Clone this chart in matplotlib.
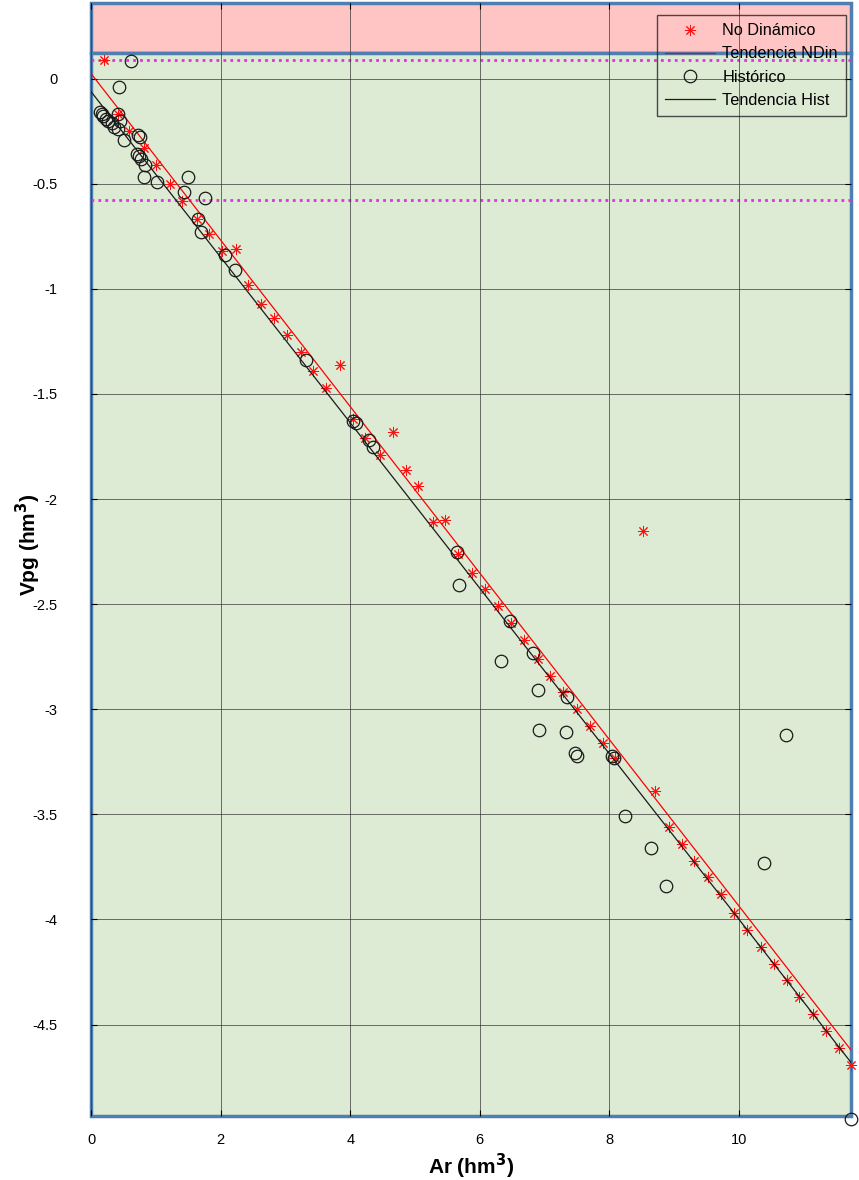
import numpy as np
import matplotlib.pyplot as plt
from matplotlib.patches import Rectangle

plt.rcParams['font.family'] = ['Liberation Sans', 'DejaVu Sans']
plt.rcParams['axes.unicode_minus'] = False

# No Dinámico series
nd_x = [0.20, 0.42, 0.59, 0.82, 1.00, 1.22, 1.40, 1.64, 1.82, 2.02, 2.24, 2.42,
        2.62, 2.82, 3.02, 3.24, 3.43, 3.63, 3.84, 4.04, 4.23, 4.46, 4.66, 4.86,
        5.05, 5.28, 5.46, 5.66, 5.88, 6.08, 6.28, 6.48, 6.68, 6.90, 7.08, 7.28,
        7.50, 7.70, 7.90, 8.09, 8.52, 8.70, 8.92, 9.12, 9.31, 9.52, 9.72, 9.92,
        10.12, 10.34, 10.54, 10.74, 10.93, 11.14, 11.34, 11.54, 11.73]
nd_y = [0.09, -0.17, -0.25, -0.33, -0.41, -0.50, -0.58, -0.67, -0.74, -0.82, -0.81, -0.98,
        -1.07, -1.14, -1.22, -1.30, -1.39, -1.47, -1.36, -1.62, -1.71, -1.79, -1.68, -1.86,
        -1.94, -2.11, -2.10, -2.26, -2.35, -2.43, -2.51, -2.59, -2.67, -2.76, -2.84, -2.92,
        -3.00, -3.08, -3.16, -3.23, -2.15, -3.39, -3.56, -3.64, -3.72, -3.80, -3.88, -3.97,
        -4.05, -4.13, -4.21, -4.29, -4.37, -4.45, -4.53, -4.61, -4.69]

# Historico series
hist_x = [0.62, 0.43, 0.14, 0.17, 0.19, 0.23, 0.26, 0.32, 0.36, 0.42, 0.45, 0.42,
          0.51, 0.72, 0.75, 0.71, 0.74, 0.77, 0.83, 0.82, 1.02, 1.50, 1.43, 1.76,
          1.65, 1.70, 2.07, 2.22, 3.32, 4.04, 4.09, 4.29, 4.35, 5.65, 5.68, 6.47,
          6.82, 6.33, 7.35, 6.90, 6.91, 7.33, 7.47, 7.50, 8.04, 8.07, 8.24, 8.64,
          8.87, 10.39, 10.73, 11.73]
hist_y = [0.086, -0.04, -0.16, -0.17, -0.18, -0.19, -0.20, -0.21, -0.23, -0.24, -0.20, -0.17,
          -0.29, -0.27, -0.28, -0.36, -0.37, -0.38, -0.41, -0.47, -0.49, -0.47, -0.54, -0.57,
          -0.67, -0.73, -0.84, -0.91, -1.34, -1.63, -1.64, -1.72, -1.75, -2.25, -2.41, -2.58,
          -2.73, -2.77, -2.94, -2.91, -3.10, -3.11, -3.21, -3.22, -3.22, -3.23, -3.51, -3.66,
          -3.84, -3.73, -3.12, -4.95]

# trend lines (slope, intercept)
nd_trend = (-0.396, 0.024)
hist_trend = (-0.3937, -0.062)

# reference band limits
band_top = 0.124
lim_hi = 0.09
lim_lo = -0.575

x_ticks = [0, 2, 4, 6, 8, 10]
y_ticks = [0, -0.5, -1, -1.5, -2, -2.5, -3, -3.5, -4, -4.5]

x_min, x_max = 0, 11.73
y_min, y_max = -4.935, 0.36

fig = plt.figure(figsize=(8.59, 11.8), dpi=100)
ax = fig.add_axes([0.106, 0.0542, 0.8847, 0.9433])

# background bands
blue = '#4F7FB0'
ax.add_patch(Rectangle((x_min, band_top), x_max - x_min, y_max - band_top,
                       facecolor='#FFC4C4', edgecolor=blue, lw=2.5, zorder=0, clip_on=False))
ax.add_patch(Rectangle((x_min, y_min), x_max - x_min, band_top - y_min,
                       facecolor='#DDEAD4', edgecolor=blue, lw=2.5, zorder=0, clip_on=False))

ax.grid(True, color='#333333', lw=0.7, alpha=0.7)
ax.set_axisbelow(False)

for yv in (lim_hi, lim_lo, y_min - 0.008):
    ax.plot([x_min, x_max], [yv, yv], color='#DD33DD', lw=2, ls=(0, (1, 1.5)), zorder=1)

xx = np.array([x_min, x_max])

ax.plot(nd_x, nd_y, ls='none', marker=(8, 2, 0), ms=8, mew=0.7, color='#FF1010',
        label='No Dinámico', zorder=3, clip_on=False)
ax.plot(xx, np.polyval(nd_trend, xx), color='red', lw=0.9, label='Tendencia NDin', zorder=3)
ax.plot(hist_x, hist_y, ls='none', marker='o', ms=9, mfc='none', mec='#1a1a1a', mew=0.9,
        label='Histórico', zorder=3, clip_on=False)
ax.plot(xx, np.polyval(hist_trend, xx), color='#1a1a1a', lw=0.9, label='Tendencia Hist', zorder=3)

ax.set_xlim(x_min, x_max)
ax.set_ylim(y_min, y_max)
ax.set_xticks(x_ticks)
ax.set_yticks(y_ticks)
ax.set_xticklabels([str(v) for v in x_ticks])
ax.set_yticklabels(['0' if v == 0 else ('%g' % v) for v in y_ticks])
ax.tick_params(direction='in', length=4, labelsize=10.5, top=True, right=True)
ax.tick_params(axis='y', pad=24)
ax.tick_params(axis='x', pad=12)
for s in ax.spines.values():
    s.set_visible(False)

ax.set_xlabel('Ar (hm$^\\mathbf{3}$)', fontsize=15, fontweight='bold', labelpad=4)
ax.set_ylabel('Vpg (hm$^\\mathbf{3}$)', fontsize=15, fontweight='bold')
ax.yaxis.set_label_coords(-0.0635, 0.513)

leg = ax.legend(loc='upper right', bbox_to_anchor=(0.9934, 0.989), borderaxespad=0,
                fontsize=11.7, frameon=True, fancybox=False, facecolor='none',
                edgecolor='#222222', borderpad=0.5, labelspacing=0.5,
                handlelength=3.1, handletextpad=0.45)
leg.get_frame().set_linewidth(1.0)

fig.savefig('out.png', dpi=100)
